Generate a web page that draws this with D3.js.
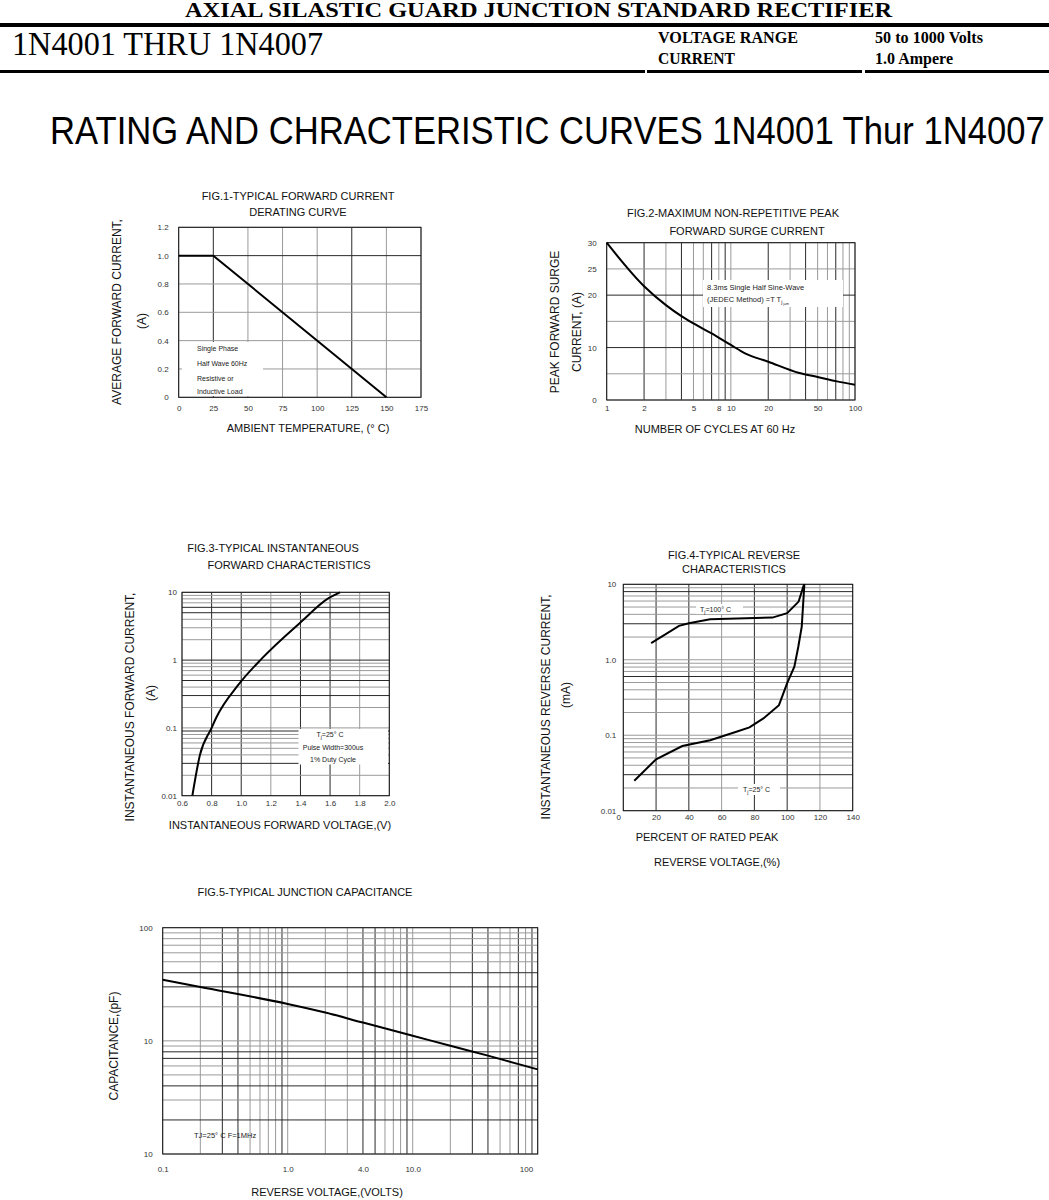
<!DOCTYPE html>
<html>
<head>
<meta charset="utf-8">
<script src="https://cdn.jsdelivr.net/npm/d3@7"></script>
<style>
body { margin: 0; background: #fff; }
</style>
</head>
<body>
<div id="chart"></div>
<script>
// fig 1 - derating curve
var fig1Temp = [0, 25, 150]
var fig1Current = [1.0, 1.0, 0]
var fig1XTicks = [0, 25, 50, 75, 100, 125, 150, 175]
var fig1YTicks = [0, 0.2, 0.4, 0.6, 0.8, 1.0, 1.2]
var fig1YLabels = ["0", "0.2", "0.4", "0.6", "0.8", "1.0", "1.2"]

// fig 2 - surge current
var fig2Cycles = [1, 2, 3, 4, 5, 7, 10, 13, 20, 35, 50, 70, 100]
var fig2Surge = [30, 21.7, 18.1, 16, 14.6, 12.7, 10.5, 8.9, 7.3, 5.2, 4.4, 3.6, 2.9]
var fig2XTicks = [1, 2, 5, 8, 10, 20, 50, 100]
var fig2YGrid = [0, 5, 10, 15, 20, 25, 30]
var fig2YTicks = [0, 10, 20, 25, 30]

// fig 3 - forward characteristics
var fig3Volts = [0.67, 0.72, 0.80, 0.83, 0.98, 1.14, 1.40, 1.59, 1.667]
var fig3Amps = [0.01, 0.039, 0.1, 0.14, 0.43, 1.06, 3.6, 8.2, 10]
var fig3XTicks = [0.6, 0.8, 1.0, 1.2, 1.4, 1.6, 1.8, 2.0]
var fig3YTicks = [0.01, 0.1, 1, 10]
var fig3YLabels = ["0.01", "0.1", "1", "10"]

// fig 4 - reverse characteristics
var fig4Pct100 = [17, 34, 40, 53, 91, 100, 107, 110, 110.5]
var fig4Ir100 = [1.66, 2.81, 3.05, 3.45, 3.62, 4.14, 5.9, 9.5, 10]
var fig4Pct25 = [6.7, 20, 36, 53, 69, 77, 85.5, 95, 100, 104.4, 106.8, 108.9, 110.5]
var fig4Ir25 = [0.025, 0.048, 0.072, 0.086, 0.111, 0.127, 0.167, 0.25, 0.49, 0.81, 1.49, 2.75, 10]
var fig4XTicks = [0, 20, 40, 60, 80, 100, 120, 140]
var fig4YTicks = [0.01, 0.1, 1, 10]
var fig4YLabels = ["0.01", "0.1", "1.0", "10"]

// fig 5 - junction capacitance
var fig5Volts = [0.1, 0.2, 1, 2, 4, 10, 20, 40, 100]
var fig5Cap = [34.6, 29.9, 21.2, 17.8, 14.5, 11.1, 9.05, 7.4, 5.6]
var fig5XTicks = [0.1, 1, 4, 10, 100]
var fig5XLabels = ["0.1", "1.0", "4.0", "10.0", "100"]
var fig5YTicks = [1, 10, 100]
var fig5YLabels = ["10", "10", "100"]

var SANS = "'Liberation Sans', Arial, sans-serif"
var SERIF = "'Liberation Serif', 'Times New Roman', serif"

var svg = d3.select("#chart").append("svg")
    .attr("width", 1049)
    .attr("height", 1200)
    .style("font-family", SANS)

// ---------- header ----------
function txt(x, y, s, size, opts) {
    opts = opts || {}
    var t = svg.append("text").attr("x", x).attr("y", y).text(s)
        .attr("font-size", size)
        .attr("font-family", opts.family || SANS)
        .attr("fill", opts.fill || "#000")
    if (opts.weight) t.attr("font-weight", opts.weight)
    if (opts.len) t.attr("textLength", opts.len).attr("lengthAdjust", "spacingAndGlyphs")
    if (opts.anchor) t.attr("text-anchor", opts.anchor)
    return t
}

txt(185, 17, "AXIAL SILASTIC GUARD JUNCTION STANDARD RECTIFIER", 20, {family: SERIF, weight: "bold", len: 707})
svg.append("rect").attr("x", 0).attr("y", 23).attr("width", 1049).attr("height", 4).attr("fill", "#000")
txt(12, 55, "1N4001 THRU 1N4007", 33, {family: SERIF, len: 311})
txt(658, 43, "VOLTAGE RANGE", 16, {family: SERIF, weight: "bold", len: 140})
txt(658, 64, "CURRENT", 16, {family: SERIF, weight: "bold", len: 77})
txt(875, 43, "50 to 1000 Volts", 16, {family: SERIF, weight: "bold", len: 108})
txt(875, 64, "1.0 Ampere", 16, {family: SERIF, weight: "bold", len: 78})
;[[0, 645], [647, 862], [865, 1049]].forEach(function (s) {
    svg.append("rect").attr("x", s[0]).attr("y", 70).attr("width", s[1] - s[0]).attr("height", 3).attr("fill", "#000")
})

// big title, squeezed horizontally to the width it has in the sheet
var bigTitle = svg.append("text").attr("x", 0).attr("y", 0)
    .attr("font-size", 38).attr("font-family", SANS).attr("fill", "#000")
    .text("RATING AND CHRACTERISTIC CURVES 1N4001 Thur 1N4007")
var bigW = bigTitle.node().getComputedTextLength()
bigTitle.attr("transform", "translate(50,144) scale(" + (995 / bigW) + ",1)")

// ---------- panels ----------
function near(d, list) {
    return list.some(function (v) { return Math.abs(d - v) < Math.abs(v) * 1e-6 + 1e-9 })
}

function panel(p) {
    var g = svg.append("g")
    var xr = p.x.range(), yr = p.y.range()
    g.selectAll("line.v").data(p.xGrid).join("line").attr("class", "v")
        .attr("x1", d => p.x(d)).attr("x2", d => p.x(d))
        .attr("y1", yr[0]).attr("y2", yr[1])
        .attr("stroke", d => near(d, p.xDark) ? "#2a2a2a" : "#9a9a9a")
        .attr("stroke-width", 1)
    g.selectAll("line.h").data(p.yGrid).join("line").attr("class", "h")
        .attr("y1", d => p.y(d)).attr("y2", d => p.y(d))
        .attr("x1", xr[0]).attr("x2", xr[1])
        .attr("stroke", d => near(d, p.yDark) ? "#2a2a2a" : "#9a9a9a")
        .attr("stroke-width", 1)
    // blank areas under the notes
    ;(p.blanks || []).forEach(function (b) {
        g.append("rect").attr("x", b[0]).attr("y", b[1]).attr("width", b[2]).attr("height", b[3]).attr("fill", "#fff")
    })
    g.append("rect").attr("x", xr[0]).attr("y", yr[1])
        .attr("width", xr[1] - xr[0]).attr("height", yr[0] - yr[1])
        .attr("fill", "none").attr("stroke", "#111").attr("stroke-width", 1)

    var xa = g.append("g").attr("transform", "translate(0," + yr[0] + ")")
        .call(d3.axisBottom(p.x).tickValues(p.xTicks)
            .tickFormat((d, i) => p.xLabels ? p.xLabels[i] : d3.format(p.xFmt || "")(d))
            .tickSize(0).tickPadding(p.xPad))
    xa.select(".domain").remove()
    var ya = g.append("g").attr("transform", "translate(" + xr[0] + ",0)")
        .call(d3.axisLeft(p.y).tickValues(p.yTicks)
            .tickFormat((d, i) => p.yLabels ? p.yLabels[i] : d3.format("")(d))
            .tickSize(0).tickPadding(p.yPad))
    ya.select(".domain").remove()
    g.selectAll(".tick text").attr("font-size", 8).attr("font-family", SANS).attr("fill", "#333")
    // nudge the outermost x labels the way the sheet has them
    if (p.firstDx) xa.select(".tick:first-of-type text").attr("dx", p.firstDx)
    if (p.lastAnchor) xa.select(".tick:last-of-type text").attr("text-anchor", p.lastAnchor).attr("dx", p.lastDx || 0)

    p.curves.forEach(function (c) {
        g.append("path").datum(c)
            .attr("d", d3.line().x(d => p.x(d[0])).y(d => p.y(d[1])).curve(p.curve || d3.curveLinear))
            .attr("fill", "none").attr("stroke", "#000").attr("stroke-width", 2)
    })
    return g
}

function rotLabel(x, y, s, size) {
    svg.append("text").attr("transform", "translate(" + x + "," + y + ") rotate(-90)")
        .attr("text-anchor", "middle").attr("dominant-baseline", "central")
        .attr("font-size", size).attr("font-family", SANS).attr("fill", "#111").text(s)
}
function ctr(x, y, s, size) {
    return txt(x, y, s, size, {anchor: "middle", fill: "#111"})
}
function note(x, y, parts, size, anchor) {
    var t = svg.append("text").attr("x", x).attr("y", y).attr("font-size", size)
        .attr("font-family", SANS).attr("fill", "#222").attr("text-anchor", anchor || "start")
    parts.forEach(function (s) {
        if (typeof s === "string") t.append("tspan").text(s)
        else t.append("tspan").attr("font-size", s.size).attr("dy", s.dy).text(s.t)
    })
    return t
}

// FIG 1
var x1 = d3.scaleLinear([0, 175], [178.7, 421])
var y1 = d3.scaleLinear([0, 1.2], [397.3, 227.3])
panel({
    x: x1, y: y1,
    xGrid: fig1XTicks, yGrid: fig1YTicks, xDark: [25, 125], yDark: [1.0],
    xTicks: fig1XTicks, yTicks: fig1YTicks, yLabels: fig1YLabels,
    xPad: 8, yPad: 10,
    blanks: [[182, 342, 81, 54]],
    curves: [d3.zip(fig1Temp, fig1Current)]
})
ctr(298, 200, "FIG.1-TYPICAL FORWARD CURRENT", 11)
ctr(298, 216, "DERATING CURVE", 11)
rotLabel(117, 312, "AVERAGE FORWARD CURRENT,", 12)
rotLabel(141.5, 321, "(A)", 12)
ctr(308, 432, "AMBIENT TEMPERATURE, (° C)", 11)
note(197, 351, ["Single Phase"], 7)
note(197, 366, ["Half Wave 60Hz"], 7)
note(197, 381, ["Resistive or"], 7)
note(197, 394, ["Inductive Load"], 7)

// FIG 2
var x2 = d3.scaleLog([1, 100], [606.7, 855])
var y2 = d3.scaleLinear([0, 30], [400, 242.7])
panel({
    x: x2, y: y2,
    xGrid: x2.ticks(), yGrid: fig2YGrid, xDark: [2, 4, 7, 9, 20, 40, 70], yDark: [10, 20],
    xTicks: fig2XTicks, yTicks: fig2YTicks,
    xPad: 5, yPad: 10,
    blanks: [[703, 280, 140, 27]],
    curve: d3.curveMonotoneX,
    curves: [d3.zip(fig2Cycles, fig2Surge)]
})
ctr(733, 217, "FIG.2-MAXIMUM NON-REPETITIVE PEAK", 11)
ctr(747, 235, "FORWARD SURGE CURRENT", 11)
rotLabel(555, 322, "PEAK FORWARD SURGE", 12)
rotLabel(577, 332, "CURRENT, (A)", 12)
ctr(715, 433, "NUMBER OF CYCLES AT 60 Hz", 11)
note(707, 290, ["8.3ms Single Half Sine-Wave"], 7.5)
note(707, 302, ["(JEDEC Method)  =T T", {t: "j", size: 5, dy: 2}, {t: "       j=m", size: 3.5, dy: 1}], 7.5)

// FIG 3
var x3 = d3.scaleLinear([0.6, 2.0], [182, 389.3])
var y3 = d3.scaleLog([0.01, 10], [795.7, 592.3])
panel({
    x: x3, y: y3,
    xGrid: fig3XTicks, yGrid: y3.ticks(), xDark: [0.8, 1.0, 1.4, 1.6], yDark: [6, 5, 1, 0.5, 0.3, 0.03, 0.09],
    xTicks: fig3XTicks, xFmt: ".1f", yTicks: fig3YTicks, yLabels: fig3YLabels,
    xPad: 4.5, yPad: 5,
    blanks: [[298.5, 729, 89.5, 35.5]],
    curve: d3.curveMonotoneX,
    curves: [d3.zip(fig3Volts, fig3Amps)]
})
ctr(273, 552, "FIG.3-TYPICAL INSTANTANEOUS", 11)
ctr(289, 569, "FORWARD CHARACTERISTICS", 11)
rotLabel(130, 707, "INSTANTANEOUS FORWARD CURRENT,", 12)
rotLabel(150.5, 693, "(A)", 12)
ctr(280, 829, "INSTANTANEOUS FORWARD VOLTAGE,(V)", 11)
note(330, 737, ["T", {t: "j", size: 5, dy: 1.5}, {t: "=25° C", size: 7, dy: -1.5}], 7, "middle")
note(333, 750, ["Pulse Width=300us"], 7, "middle")
note(333, 762, ["1% Duty Cycle"], 7, "middle")

// FIG 4
var x4 = d3.scaleLinear([0, 140], [623.3, 852.7])
var y4 = d3.scaleLog([0.01, 10], [810.7, 584.3])
panel({
    x: x4, y: y4,
    xGrid: fig4XTicks, yGrid: y4.ticks(), xDark: [20, 40, 80, 100], yDark: [3, 0.03, 8, 0.6],
    xTicks: fig4XTicks, yTicks: fig4YTicks, yLabels: fig4YLabels,
    xPad: 4, yPad: 7, firstDx: -5,
    blanks: [[696, 604, 47, 10], [738, 784, 42, 11]],
    curves: [d3.zip(fig4Pct100, fig4Ir100), d3.zip(fig4Pct25, fig4Ir25)]
})
ctr(734, 559, "FIG.4-TYPICAL REVERSE", 11)
ctr(734, 573, "CHARACTERISTICS", 11)
rotLabel(546, 707, "INSTANTANEOUS REVERSE CURRENT,", 12)
rotLabel(566, 695, "(mA)", 12)
ctr(707, 841, "PERCENT OF RATED PEAK", 11)
ctr(717, 866, "REVERSE VOLTAGE,(%)", 11)
note(700, 612, ["T", {t: "j", size: 5, dy: 1.5}, {t: "=100° C", size: 7, dy: -1.5}], 7)
note(743, 792, ["T", {t: "j", size: 5, dy: 1.5}, {t: "=25° C", size: 7, dy: -1.5}], 7)

// FIG 5
var x5 = d3.scaleLog([0.1, 100], [162.7, 537.7])
var y5 = d3.scaleLog([1, 100], [1154, 927.7])
panel({
    x: x5, y: y5,
    xGrid: x5.ticks(), yGrid: y5.ticks(), xDark: [0.3, 0.4, 0.9, 4, 5, 9, 30, 40, 70, 90], yDark: [40, 30, 8, 7, 4, 2],
    xTicks: fig5XTicks, xLabels: fig5XLabels, yTicks: fig5YTicks, yLabels: fig5YLabels,
    xPad: 12, yPad: 10, lastAnchor: "end", lastDx: -5,
    curve: d3.curveMonotoneX,
    curves: [d3.zip(fig5Volts, fig5Cap)]
})
ctr(305, 896, "FIG.5-TYPICAL JUNCTION CAPACITANCE", 11)
rotLabel(114, 1046, "CAPACITANCE,(pF)", 12)
ctr(327, 1196, "REVERSE VOLTAGE,(VOLTS)", 11)
note(194, 1138, ["TJ=25° C F=1MHz"], 7.5)
</script>
</body>
</html>
